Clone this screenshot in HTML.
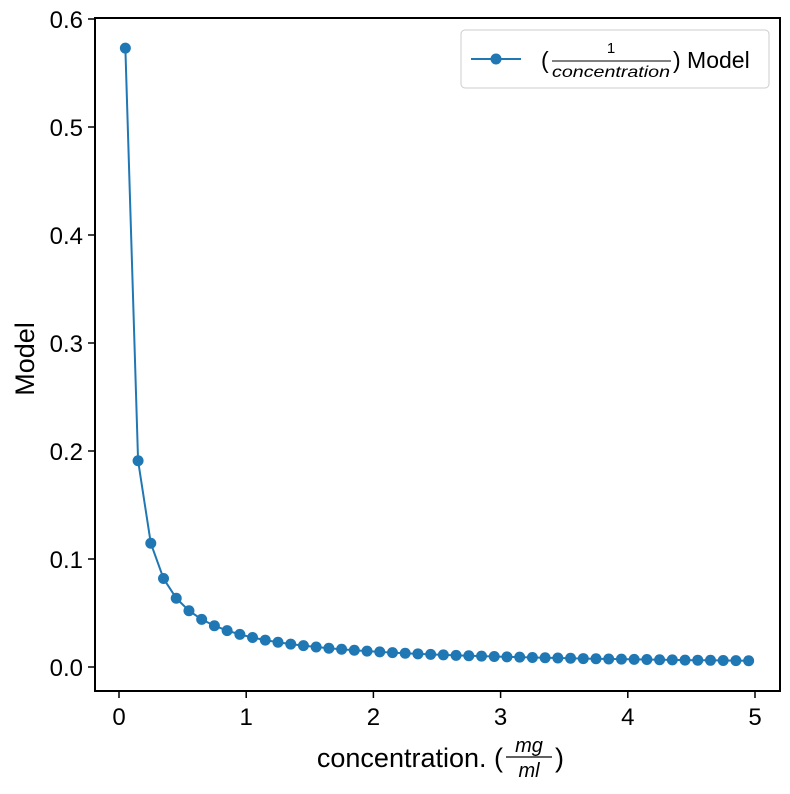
<!DOCTYPE html>
<html><head><meta charset="utf-8"><style>
body{margin:0;background:#fff}
svg text{font-family:"Liberation Sans",sans-serif;fill:#000}
</style></head><body>
<svg id="chart" width="790" height="789" xmlns="http://www.w3.org/2000/svg">
<rect x="0" y="0" width="790" height="789" fill="#fff"/>
<g id="marks"></g>
<rect x="95" y="18" width="685" height="673" fill="none" stroke="#000" stroke-width="2"/>
<g id="xticks"></g>
<g id="yticks"></g>
<g>
<text x="503" y="767" font-size="27" text-anchor="end">concentration. (</text>
<text x="529" y="752" font-size="20" font-style="italic" font-family="DejaVu Sans" text-anchor="middle">mg</text>
<line x1="506" y1="757" x2="552" y2="757" stroke="#000" stroke-width="1.2"/>
<text x="529" y="777" font-size="20" font-style="italic" font-family="DejaVu Sans" text-anchor="middle">ml</text>
<text x="555" y="767" font-size="27">)</text>
</g>
<text transform="translate(34,359) rotate(-90)" font-size="27" text-anchor="middle">Model</text>
<g>
<rect x="461" y="30" width="308" height="58" rx="4" fill="#fff" stroke="#ccc" stroke-width="1"/>
<line x1="471" y1="59" x2="521" y2="59" stroke="#1f77b4" stroke-width="2"/>
<circle cx="496" cy="59" r="5.5" fill="#1f77b4"/>
<text x="541" y="68" font-size="23">(</text>
<text x="611" y="53" font-size="15" font-family="DejaVu Sans" text-anchor="middle">1</text>
<line x1="552" y1="61" x2="671" y2="61" stroke="#000" stroke-width="1"/>
<text x="611" y="77" font-size="16" font-family="DejaVu Sans" font-style="italic" text-anchor="middle" textLength="118" lengthAdjust="spacingAndGlyphs">concentration</text>
<text x="673" y="68" font-size="23">) Model</text>
</g>
</svg>
<script>
const xValues=[0.05,0.15,0.25,0.35,0.45,0.55,0.65,0.75,0.85,0.95,1.05,1.15,1.25,1.35,1.45,1.55,1.65,1.75,1.85,1.95,2.05,2.15,2.25,2.35,2.45,2.55,2.65,2.75,2.85,2.95,3.05,3.15,3.25,3.35,3.45,3.55,3.65,3.75,3.85,3.95,4.05,4.15,4.25,4.35,4.45,4.55,4.65,4.75,4.85,4.95];
const yValues=[0.573,0.191,0.1146,0.0819,0.0637,0.0521,0.0441,0.0382,0.0337,0.0302,0.0273,0.0249,0.0229,0.0212,0.0198,0.0185,0.0174,0.0164,0.0155,0.0147,0.0140,0.0133,0.0127,0.0122,0.0117,0.0112,0.0108,0.0104,0.0101,0.0097,0.0094,0.0091,0.0088,0.0086,0.0083,0.0081,0.0078,0.0076,0.0074,0.0073,0.0071,0.0069,0.0067,0.0066,0.0064,0.0063,0.0062,0.0060,0.0059,0.0058];
const xTicks=[0,1,2,3,4,5];
const yTicks=[0.0,0.1,0.2,0.3,0.4,0.5,0.6];
const NS="http://www.w3.org/2000/svg";
function sx(v){return 119+v*127.2;}
function sy(v){return 667-v*1080;}
const marks=document.getElementById('marks');
const pl=document.createElementNS(NS,'polyline');
pl.setAttribute('points',xValues.map((x,i)=>sx(x)+','+sy(yValues[i])).join(' '));
pl.setAttribute('fill','none');pl.setAttribute('stroke','#1f77b4');pl.setAttribute('stroke-width','2');


marks.appendChild(pl);
xValues.forEach((x,i)=>{
 const c=document.createElementNS(NS,'circle');
 c.setAttribute('cx',sx(x));c.setAttribute('cy',sy(yValues[i]));c.setAttribute('r',5.5);c.setAttribute('fill','#1f77b4');
 
 
 marks.appendChild(c);
});
const xg=document.getElementById('xticks');
xTicks.forEach(t=>{
 const l=document.createElementNS(NS,'line');
 l.setAttribute('x1',sx(t));l.setAttribute('x2',sx(t));l.setAttribute('y1',691);l.setAttribute('y2',698);l.setAttribute('stroke','#000');l.setAttribute('stroke-width','1.5');
 xg.appendChild(l);
 const tx=document.createElementNS(NS,'text');
 tx.setAttribute('x',sx(t));tx.setAttribute('y',725);tx.setAttribute('font-size','24');tx.setAttribute('text-anchor','middle');
 tx.textContent=t;
 
 
 xg.appendChild(tx);
});
const yg=document.getElementById('yticks');
yTicks.forEach(t=>{
 const l=document.createElementNS(NS,'line');
 l.setAttribute('x1',88);l.setAttribute('x2',95);l.setAttribute('y1',sy(t));l.setAttribute('y2',sy(t));l.setAttribute('stroke','#000');l.setAttribute('stroke-width','1.5');
 yg.appendChild(l);
 const tx=document.createElementNS(NS,'text');
 tx.setAttribute('x',83);tx.setAttribute('y',sy(t)+9);tx.setAttribute('font-size','24');tx.setAttribute('text-anchor','end');
 tx.textContent=t.toFixed(1);
 
 
 yg.appendChild(tx);
});
</script>
</body></html>
